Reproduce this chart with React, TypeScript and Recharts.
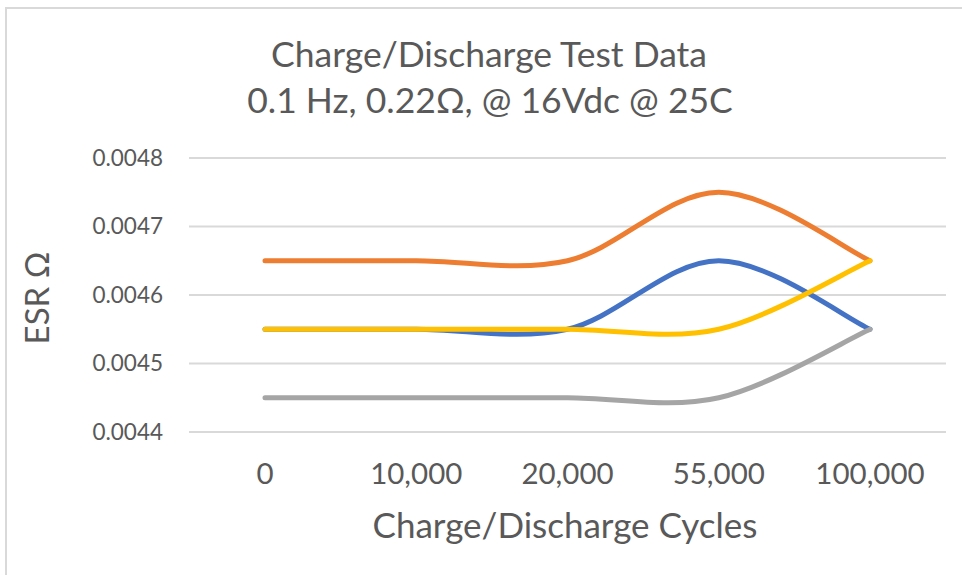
import React from 'react';
import { LineChart, Line, XAxis, YAxis, CartesianGrid } from 'recharts';

const cycles = ['0', '10,000', '20,000', '55,000', '100,000'];
const series1 = [0.00455, 0.00455, 0.00455, 0.00465, 0.00455];
const series2 = [0.00465, 0.00465, 0.00465, 0.00475, 0.00465];
const series3 = [0.00445, 0.00445, 0.00445, 0.00445, 0.00455];
const series4 = [0.00455, 0.00455, 0.00455, 0.00455, 0.00465];
const yTicks = [0.0044, 0.0045, 0.0046, 0.0047, 0.0048];

const data = cycles.map((c, i) => ({
  cycle: c,
  s1: series1[i],
  s2: series2[i],
  s3: series3[i],
  s4: series4[i],
}));

const FONT = 'Lato, "Open Sans", sans-serif';
const TEXT = '#595959';

// Excel-style smoothing (uniform Catmull-Rom through every point)
const excelSmooth = (context: any) => {
  let pts: number[][] = [];
  return {
    areaStart() {},
    areaEnd() {},
    lineStart() {
      pts = [];
    },
    point(x: number, y: number) {
      pts.push([+x, +y]);
    },
    lineEnd() {
      if (!pts.length) return;
      context.moveTo(pts[0][0], pts[0][1]);
      for (let i = 0; i < pts.length - 1; i++) {
        const p0 = pts[i - 1] || pts[i];
        const p1 = pts[i];
        const p2 = pts[i + 1];
        const p3 = pts[i + 2] || p2;
        context.bezierCurveTo(
          p1[0] + (p2[0] - p0[0]) / 6,
          p1[1] + (p2[1] - p0[1]) / 6,
          p2[0] - (p3[0] - p1[0]) / 6,
          p2[1] - (p3[1] - p1[1]) / 6,
          p2[0],
          p2[1]
        );
      }
    },
  };
};

const lines = [
  { key: 's1', color: '#4472C4' },
  { key: 's2', color: '#ED7D31' },
  { key: 's3', color: '#A5A5A5' },
  { key: 's4', color: '#FFC000' },
];

export default function App() {
  return (
    <div style={{ position: 'absolute', left: 0, top: 0, width: 962, height: 575, background: '#fff' }}>
      <LineChart width={962} height={575} data={data} margin={{ top: 158, right: 16, bottom: 0, left: 0 }}>
        <rect x={6} y={8} width={970} height={590} fill="none" stroke="#d9d9d9" strokeWidth={2} />
        <text x={489} y={67} textAnchor="middle" fill={TEXT} fontFamily={FONT} fontSize={35.5}>
          Charge/Discharge Test Data
        </text>
        <text x={490} y={113} textAnchor="middle" fill={TEXT} fontFamily={FONT} fontSize={35.5}>
          0.1 Hz, 0.22Ω, @ 16Vdc @ 25C
        </text>
        <text x={565} y={538} textAnchor="middle" fill={TEXT} fontFamily={FONT} fontSize={35}>
          Charge/Discharge Cycles
        </text>
        <text
          x={49}
          y={298}
          textAnchor="middle"
          fill={TEXT}
          fontFamily={FONT}
          fontSize={33}
          transform="rotate(-90 49 298)"
        >
          ESR Ω
        </text>
        <CartesianGrid vertical={false} stroke="#d9d9d9" strokeWidth={2} />
        <XAxis
          dataKey="cycle"
          height={143}
          padding={{ left: 76, right: 76 }}
          axisLine={false}
          tickLine={false}
          tickMargin={25}
          tick={{ fill: TEXT, fontSize: 29.5, fontFamily: FONT }}
          interval={0}
        />
        <YAxis
          width={189}
          domain={[0.0044, 0.0048]}
          ticks={yTicks}
          allowDataOverflow
          axisLine={false}
          tickLine={false}
          tickMargin={20}
          tickFormatter={(v: number) => v.toFixed(4)}
          tick={{ fill: TEXT, fontSize: 22.5, fontFamily: FONT }}
        />
        {lines.map((l) => (
          <Line
            key={l.key}
            dataKey={l.key}
            type={excelSmooth as any}
            stroke={l.color}
            strokeWidth={5}
            dot={false}
            activeDot={false}
            strokeLinecap="round"
            isAnimationActive={false}
          />
        ))}
      </LineChart>
    </div>
  );
}
